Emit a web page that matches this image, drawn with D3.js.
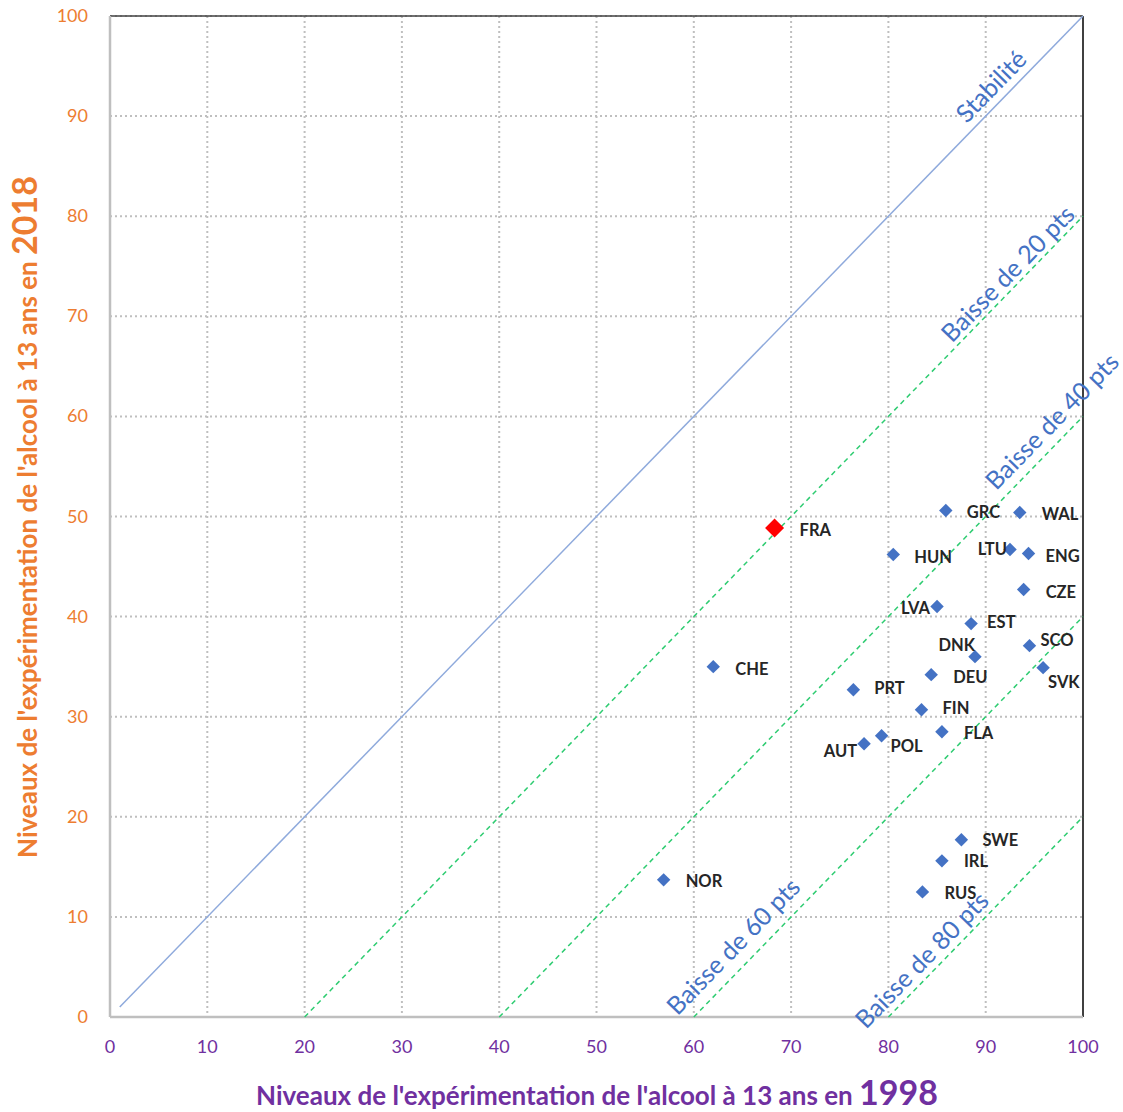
<!DOCTYPE html>
<html><head><meta charset="utf-8">
<script src="https://cdn.jsdelivr.net/npm/d3@7"></script>
<style>body{margin:0;background:#fff;} svg{display:block;font-family:Lato,"Open Sans",sans-serif;}</style>
</head><body>
<svg id="c" width="1123" height="1112"></svg>
<script>
const countries = ["FRA","GRC","WAL","HUN","LTU","ENG","CZE","LVA","EST","SCO","DNK","SVK","CHE","DEU","PRT","FIN","FLA","POL","AUT","SWE","IRL","RUS","NOR"];
const level1998 = [68.3,85.9,93.5,80.5,92.5,94.4,93.9,85.0,88.5,94.5,88.9,95.9,62.0,84.4,76.4,83.4,85.5,79.3,77.5,87.5,85.5,83.5,56.9];
const level2018 = [48.85,50.6,50.4,46.2,46.7,46.3,42.7,41.0,39.3,37.1,36.0,34.9,35.0,34.2,32.7,30.7,28.5,28.1,27.3,17.7,15.6,12.5,13.7];
const xTicks = [0,10,20,30,40,50,60,70,80,90,100];
const yTicks = [0,10,20,30,40,50,60,70,80,90,100];
const refDrops = [0,20,40,60,80];
const refLabels = ["Stabilité","Baisse de 20 pts","Baisse de 40 pts","Baisse de 60 pts","Baisse de 80 pts"];
const highlight = "FRA";

// layout (not data)
const refLabelCenterX = [91.8,93.3,98.2,65.6,84.6];
const refLabelLift = [8,5,10,12,7];
const labelPlace = {FRA:[25,8,"start"],GRC:[21,8,"start"],WAL:[22,8,"start"],HUN:[21,8,"start"],LTU:[-3,5,"end"],
  ENG:[17,8,"start"],CZE:[22,8,"start"],LVA:[-7,7,"end"],EST:[16,4,"start"],SCO:[11,0,"start"],DNK:[0,-6,"end"],
  SVK:[5,20,"start"],CHE:[22,8,"start"],DEU:[22,8,"start"],PRT:[21,4,"start"],FIN:[21,4,"start"],FLA:[22,7,"start"],
  POL:[9,16,"start"],AUT:[-7,13,"end"],SWE:[21,6,"start"],IRL:[22,6,"start"],RUS:[22,7,"start"],NOR:[22,7,"start"]};

const svg = d3.select("#c");
const L=110, R=1083, T=16, B=1017;
const x = d3.scaleLinear().domain([0,100]).range([L,R]);
const y = d3.scaleLinear().domain([0,100]).range([B,T]);
const orange="#ed7d31", purple="#7030a0", blue="#4472c4";

// grid
const g = svg.append("g");
g.selectAll(".vg").data(xTicks.filter(d=>d>0&&d<100)).join("line")
  .attr("x1",d=>x(d)).attr("x2",d=>x(d)).attr("y1",T).attr("y2",B)
  .attr("stroke","#bfbfbf").attr("stroke-width",2).attr("stroke-dasharray","2,3");
g.selectAll(".hg").data(yTicks.filter(d=>d>0)).join("line")
  .attr("x1",L).attr("x2",R).attr("y1",d=>y(d)).attr("y2",d=>y(d))
  .attr("stroke","#bfbfbf").attr("stroke-width",2).attr("stroke-dasharray","2,3");

// borders
svg.append("line").attr("x1",L).attr("x2",R).attr("y1",T).attr("y2",T).attr("stroke","#404040").attr("stroke-width",1.5);
svg.append("line").attr("x1",R).attr("x2",R).attr("y1",T).attr("y2",B).attr("stroke","#404040").attr("stroke-width",2);
svg.append("line").attr("x1",L).attr("x2",L).attr("y1",T).attr("y2",B).attr("stroke","#bfbfbf").attr("stroke-width",2.5);
svg.append("line").attr("x1",L).attr("x2",R).attr("y1",B).attr("y2",B).attr("stroke","#bfbfbf").attr("stroke-width",2.5);

// reference lines
refDrops.forEach((k,i)=>{
  const x0 = k===0 ? 1 : k;
  const ln = svg.append("line").attr("x1",x(x0)).attr("y1",y(x0-k)).attr("x2",x(100)).attr("y2",y(100-k));
  if(k===0) ln.attr("stroke","#8faadc").attr("stroke-width",1.5);
  else ln.attr("stroke","#2ecc71").attr("stroke-width",1.5).attr("stroke-dasharray","5,4");
});
const ang = Math.atan2(y(0)-y(100), x(100)-x(0))*180/Math.PI;
refLabels.forEach((t,i)=>{
  const cx = refLabelCenterX[i], k = refDrops[i];
  svg.append("text").attr("transform",`translate(${x(cx)},${y(cx-k)}) rotate(${-ang})`)
    .attr("y",-refLabelLift[i]).attr("text-anchor","middle")
    .attr("font-size",25).attr("fill",blue).text(t);
});

// ticks
svg.selectAll(".yt").data(yTicks).join("text").attr("x",88).attr("y",d=>y(d)+6)
  .attr("text-anchor","end").attr("font-size",18).attr("fill",orange).text(d=>d);
svg.selectAll(".xt").data(xTicks).join("text").attr("x",d=>x(d)).attr("y",1053)
  .attr("text-anchor","middle").attr("font-size",18).attr("fill",purple).text(d=>d);

// axis titles
const yt = svg.append("text").attr("transform","translate(37,517) rotate(-90)").attr("text-anchor","middle")
  .attr("font-weight","bold").attr("fill",orange);
yt.append("tspan").attr("font-size",26).text("Niveaux de l'expérimentation de l'alcool à 13 ans en ");
yt.append("tspan").attr("font-size",34).text("2018");
const xt = svg.append("text").attr("x",597).attr("y",1105).attr("text-anchor","middle")
  .attr("font-weight","bold").attr("fill",purple);
xt.append("tspan").attr("font-size",26).text("Niveaux de l'expérimentation de l'alcool à 13 ans en ");
xt.append("tspan").attr("font-size",34).text("1998");

// points
const pts = countries.map((c,i)=>({c, a:level1998[i], b:level2018[i]}));
const diamond = d3.symbol().type(d3.symbolDiamond2);
svg.selectAll(".pt").data(pts).join("path")
  .attr("transform",d=>`translate(${x(d.a)},${y(d.b)})`)
  .attr("d",d=>diamond.size(d.c===highlight?230:115)())
  .attr("fill",d=>d.c===highlight?"#ff0000":blue);
svg.selectAll(".lb").data(pts).join("text")
  .attr("x",d=>x(d.a)+labelPlace[d.c][0]).attr("y",d=>y(d.b)+labelPlace[d.c][1])
  .attr("text-anchor",d=>labelPlace[d.c][2])
  .attr("font-size",16.5).attr("font-weight","bold").attr("fill","#262626").text(d=>d.c);
</script>
</body></html>
